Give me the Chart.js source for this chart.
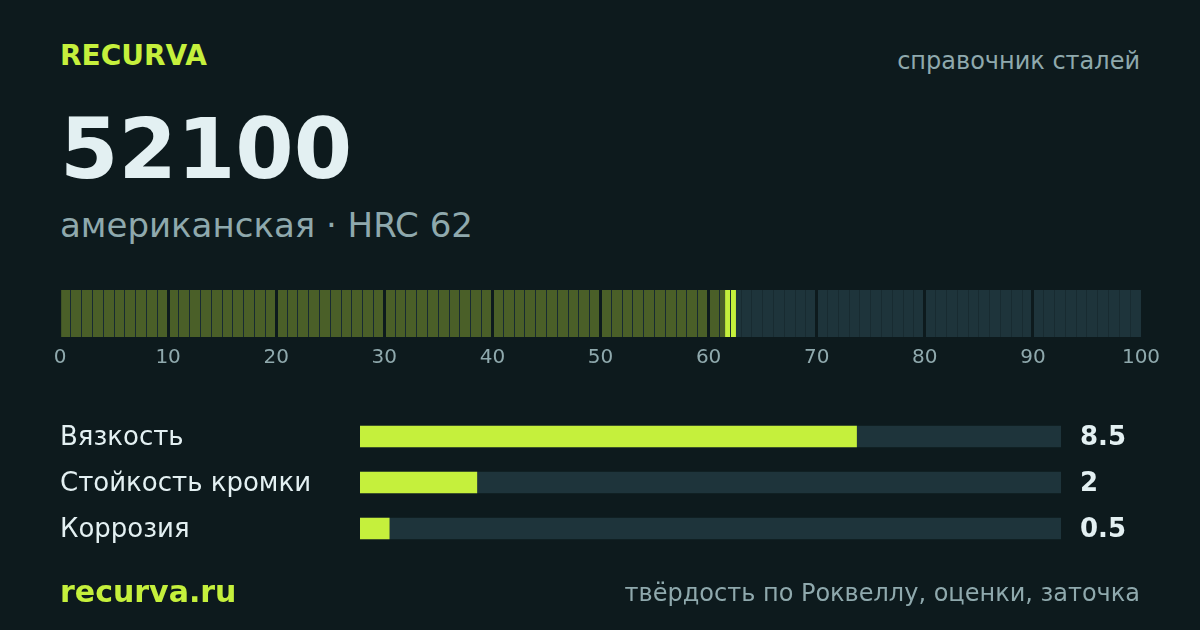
<!DOCTYPE html>
<html>
<head>
<meta charset="utf-8">
<script src="https://cdn.jsdelivr.net/npm/chart.js@4.4.1/dist/chart.umd.min.js"></script>
<style>
    html, body { margin: 0; padding: 0; }
    body {
        width: 1200px; height: 630px; overflow: hidden; position: relative;
        background: #0d1a1d; font-family: "DejaVu Sans", sans-serif;
    }
    .txt { position: absolute; line-height: 1; white-space: nowrap; }
    #brand { left: 60px; top: 42px; font-size: 28px; font-weight: bold; color: #c5f03c; }
    #kind { right: 60px; top: 49px; font-size: 24px; color: #8fa9ad; }
    #steel { left: 60px; top: 107px; font-size: 84px; font-weight: bold; color: #e3f0f2; }
    #sub { left: 60px; top: 208px; font-size: 34px; color: #8fa9ad; }
    #site { left: 60px; top: 577px; font-size: 30px; font-weight: bold; color: #c5f03c; }
    #foot { right: 60px; top: 581px; font-size: 24px; color: #8fa9ad; }
    #scaleWrap { position: absolute; left: 30px; top: 280px; width: 1141px; height: 100px; }
    #barsWrap { position: absolute; left: 0; top: 384px; width: 1200px; height: 198px; }
</style>
</head>
<body>
<div class="txt" id="brand">RECURVA</div>
<div class="txt" id="kind">справочник сталей</div>
<div class="txt" id="steel">52100</div>
<div class="txt" id="sub">американская · HRC 62</div>

<div id="scaleWrap"><canvas id="escala"></canvas></div>
<div id="barsWrap"><canvas id="notas"></canvas></div>

<div class="txt" id="site">recurva.ru</div>
<div class="txt" id="foot">твёрдость по Роквеллу, оценки, заточка</div>

<script>
// escala HRC 0..100, la banda de la dureza
const escalaMin = 0;
const escalaMax = 100;
const banda = [61.5, 62.5];   // HRC 62

// oceny
const categorias = ['Вязкость', 'Стойкость кромки', 'Коррозия'];
const valores = [8.5, 2, 0.5];
const valorMax = 12;

const fondo = '#0d1a1d';
const lima = '#c5f03c';
const oliva = '#4a5f28';
const pista = '#1e343b';

// --- escala segmentada ---
new Chart(document.getElementById('escala'), {
    type: 'bar',
    data: {
        labels: [''],
        datasets: [
            { data: [[escalaMin, banda[0]]], backgroundColor: oliva },
            { data: [[banda[0], banda[1]]], backgroundColor: lima },
            { data: [[banda[1], escalaMax]], backgroundColor: pista }
        ]
    },
    options: {
        indexAxis: 'y',
        responsive: true,
        maintainAspectRatio: false,
        animation: false,
        layout: { padding: { left: 30, right: 30, top: 10, bottom: 13 } },
        datasets: { bar: { grouped: false, barPercentage: 1, categoryPercentage: 1 } },
        plugins: { legend: { display: false }, tooltip: { enabled: false } },
        scales: {
            y: { display: false },
            x: {
                min: escalaMin,
                max: escalaMax,
                border: { display: false },
                afterFit: s => { s.height = 30; },
                grid: {
                    z: 1,
                    drawTicks: false,
                    color: ctx => {
                        const v = ctx.tick ? ctx.tick.value : 0;
                        if (v === escalaMin || v === escalaMax) return 'rgba(0,0,0,0)';
                        return v % 10 === 0 ? fondo : '#182b31';
                    },
                    lineWidth: ctx => {
                        const v = ctx.tick ? ctx.tick.value : 0;
                        return v % 10 === 0 ? 3 : 1;
                    }
                },
                ticks: {
                    stepSize: 1,
                    autoSkip: false,
                    maxTicksLimit: 200,
                    maxRotation: 0,
                    padding: 9,
                    color: '#8fa9ad',
                    font: { family: 'DejaVu Sans', size: 20 },
                    callback: v => (v % 10 === 0 ? v : '')
                }
            }
        }
    }
});

// --- barras de oceny ---
const etiquetasValor = {
    id: 'etiquetasValor',
    afterDatasetsDraw(chart) {
        const ctx = chart.ctx;
        const meta = chart.getDatasetMeta(0);
        ctx.save();
        ctx.font = 'bold 26px "DejaVu Sans"';
        ctx.fillStyle = '#e3f0f2';
        ctx.textAlign = 'left';
        ctx.textBaseline = 'middle';
        meta.data.forEach((bar, i) => {
            ctx.fillText(String(valores[i]), 1080, bar.y + 2);
        });
        ctx.restore();
    }
};

new Chart(document.getElementById('notas'), {
    type: 'bar',
    data: {
        labels: categorias,
        datasets: [
            { data: valores, backgroundColor: lima },
            { data: categorias.map(() => valorMax), backgroundColor: pista }
        ]
    },
    options: {
        indexAxis: 'y',
        responsive: true,
        maintainAspectRatio: false,
        animation: false,
        layout: { padding: { left: 60, right: 139, top: 29.5, bottom: 30.5 } },
        datasets: { bar: { grouped: false, barThickness: 21 } },
        plugins: { legend: { display: false }, tooltip: { enabled: false } },
        scales: {
            x: { display: false, min: 0, max: valorMax },
            y: {
                border: { display: false },
                grid: { display: false },
                afterFit: s => { s.width = 300; },
                ticks: {
                    crossAlign: 'far',
                    padding: 0,
                    labelOffset: 2,
                    color: '#e3f0f2',
                    font: { family: 'DejaVu Sans', size: 26 }
                }
            }
        }
    },
    plugins: [etiquetasValor]
});
</script>
</body>
</html>
